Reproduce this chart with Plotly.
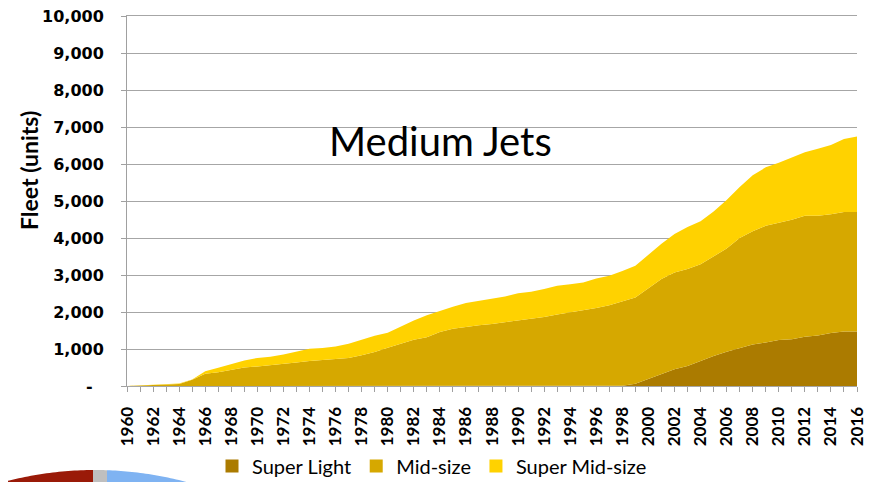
import math
import plotly.graph_objects as go

years = list(range(1960, 2017))

super_light = [0]*38 + [10, 60, 195, 335, 455, 540, 685, 810, 925, 1015, 1120, 1175, 1240, 1265, 1330, 1365, 1435, 1470, 1470]

mid_size = [0, 10, 20, 30, 55, 170, 330, 370, 440, 500,
            530, 560, 595, 635, 675, 700, 730, 760, 830, 920,
            1035, 1140, 1250, 1320, 1460, 1550, 1600, 1640, 1675, 1720,
            1775, 1800, 1865, 1935, 1995, 2035, 2105, 2185, 2275, 2335,
            2450, 2560, 2615, 2620, 2605, 2685, 2790, 2985, 3060, 3155,
            3160, 3225, 3270, 3235, 3210, 3235, 3230]

super_mid = [0, 5, 15, 15, 10, 5, 70, 120, 160, 190,
             230, 230, 255, 290, 330, 330, 340, 380, 420, 440,
             405, 470, 520, 590, 570, 590, 640, 660, 695, 700,
             735, 750, 755, 775, 755, 765, 800, 795, 820, 855,
             900, 950, 1035, 1140, 1160, 1220, 1310, 1380, 1515, 1580,
             1635, 1695, 1720, 1810, 1870, 1970, 2040]

series_names = ["Super Light", "Mid-size", "Super Mid-size"]
series_colors = ["#AB7B00", "#D6A800", "#FFD200"]
series_values = [super_light, mid_size, super_mid]

y_ticks = list(range(0, 10001, 1000))
y_ticklabels = ["-\u00a0\u00a0"] + [f"{v:,}" for v in y_ticks[1:]]
x_ticks = list(range(1960, 2017, 2))

# the page body has an 8px margin; lay out in page pixels and compensate
OFF = 8
W, H = 879 - OFF, 482 - OFF
ML, MT = 127 - OFF, 16 - OFF
MR = W - (857 - OFF)
MB = H - (386 - OFF)
PW, PH = W - ML - MR, H - MT - MB

def page_to_paper(px, py):
    return (px - OFF - ML) / PW, (H - MB - (py - OFF)) / PH

fig = go.Figure()
for name, vals, col in zip(series_names, series_values, series_colors):
    fig.add_trace(go.Scatter(
        x=years, y=vals, name=name, mode="lines",
        stackgroup="one", line=dict(width=0, color=col),
        fillcolor=col, showlegend=False, hoverinfo="x+y+name"))
for name, col in zip(series_names, series_colors):
    fig.add_trace(go.Scatter(
        x=[None], y=[None], name=name, mode="markers",
        marker=dict(symbol="square", size=13, color=col), showlegend=True))

# fragment of a neighbouring pie chart peeking in at bottom-left
cx, cy, R = 95, 825, 355
def wedge(x0, x1, color):
    pts = []
    n = 30
    for i in range(n + 1):
        x = x0 + (x1 - x0) * i / n
        y = cy - math.sqrt(max(R*R - (x - cx) ** 2, 0))
        pts.append(page_to_paper(x, y))
    pts.append(page_to_paper(x1, 490))
    pts.append(page_to_paper(x0, 490))
    path = "M " + " L ".join(f"{a:.5f},{b:.5f}" for a, b in pts) + " Z"
    return dict(type="path", path=path, xref="paper", yref="paper",
                fillcolor=color, line=dict(width=0), layer="above")

shapes = [wedge(0, 93, "#9A1A08"), wedge(93, 107, "#BFBFBF"), wedge(107, 190, "#7FB3F2")]

tx, ty = page_to_paper(440, 140.5)
yx, yy = page_to_paper(29, 171)
lx, _ = page_to_paper(212, 0)

fig.update_layout(
    width=W, height=H,
    margin=dict(l=ML, r=MR, t=MT, b=MB, autoexpand=False),
    paper_bgcolor="white", plot_bgcolor="white",
    font=dict(family="Lato", color="black"),
    showlegend=True,
    legend=dict(orientation="h", x=lx, xanchor="left",
                yref="container", y=(H - (466 - OFF)) / H, yanchor="middle",
                font=dict(size=20, family="Lato"), itemwidth=30,
                traceorder="normal", bgcolor="rgba(0,0,0,0)"),
    shapes=shapes,
    annotations=[
        dict(text="Medium Jets", x=tx, y=ty, xref="paper", yref="paper",
             xanchor="center", yanchor="middle", showarrow=False,
             font=dict(size=40, family="Lato")),
        dict(text="Fleet (units)", x=yx, y=yy, xref="paper", yref="paper",
             xanchor="center", yanchor="middle", showarrow=False, textangle=-90,
             font=dict(size=23, family="Lato", weight="bold")),
    ],
)

fig.update_xaxes(
    range=[1960, 2016], tickmode="array", tickvals=x_ticks,
    ticktext=[str(v) for v in x_ticks], tickangle=-90,
    tickfont=dict(size=17, family="Lato", color="black", weight="bold"),
    ticks="outside", ticklen=5, tickcolor="#A0A0A0", ticklabelstandoff=8,
    ticklabeloverflow="allow",
    minor=dict(dtick=1, tick0=1960, ticks="outside", ticklen=5, tickcolor="#A0A0A0"),
    showline=True, mirror=True, linecolor="#A6A6A6", linewidth=1,
    showgrid=False, zeroline=False, automargin=False)

fig.update_yaxes(
    range=[0, 10000], tickmode="array", tickvals=y_ticks, ticktext=y_ticklabels,
    tickfont=dict(size=16, family="DejaVu Sans", color="black", weight="bold"),
    ticks="outside", ticklen=5, tickcolor="#A0A0A0", ticklabelstandoff=14,
    ticklabeloverflow="allow",
    showline=True, linecolor="#A0A0A0", linewidth=1,
    showgrid=True, gridcolor="#A6A6A6", gridwidth=1, zeroline=False,
    automargin=False)

fig.write_html("out.html")
